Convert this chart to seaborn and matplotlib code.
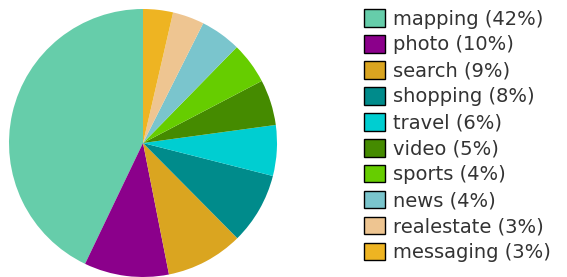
import matplotlib
matplotlib.use("Agg")
import matplotlib.pyplot as plt
import seaborn as sns
from matplotlib.patches import Patch

sns.set_style("white")
plt.rcParams['font.family'] = ['DejaVu Sans']

categories = ["mapping", "photo", "search", "shopping", "travel", "video",
              "sports", "news", "realestate", "messaging"]
values = [42.8, 10.2, 9.3, 8.6, 6.1, 5.5, 5.0, 4.9, 3.8, 3.6]
legend_pct = ["42%", "10%", "9%", "8%", "6%", "5%", "4%", "4%", "3%", "3%"]
colors = ["#66CDAA", "#8B008B", "#DAA520", "#008B8B", "#00CED1", "#458B00",
          "#66CD00", "#7AC5CD", "#EEC591", "#EEB422"]

fig = plt.figure(figsize=(5.67, 2.77), dpi=100)
ax = fig.add_axes([9/567, 0/277, 268/567, 268/277])
ax.pie(values, colors=colors, startangle=90, counterclock=True,
       radius=1.0, wedgeprops=dict(linewidth=0))
ax.set_xlim(-1, 1)
ax.set_ylim(-1, 1)
ax.set_aspect("equal")
ax.axis("off")

handles = [Patch(facecolor=c, edgecolor="black", linewidth=1.0) for c in colors]
labels = [f"{c} ({p})" for c, p in zip(categories, legend_pct)]
fig.legend(handles, labels, loc="upper left",
           bbox_to_anchor=(364/567, 1 - 9/277), frameon=False,
           fontsize=14, handlelength=1.1, handleheight=1.03,
           handletextpad=0.4, labelspacing=0.33, borderaxespad=0,
           borderpad=0, labelcolor="#333333")

fig.savefig("out.png", dpi=100)
